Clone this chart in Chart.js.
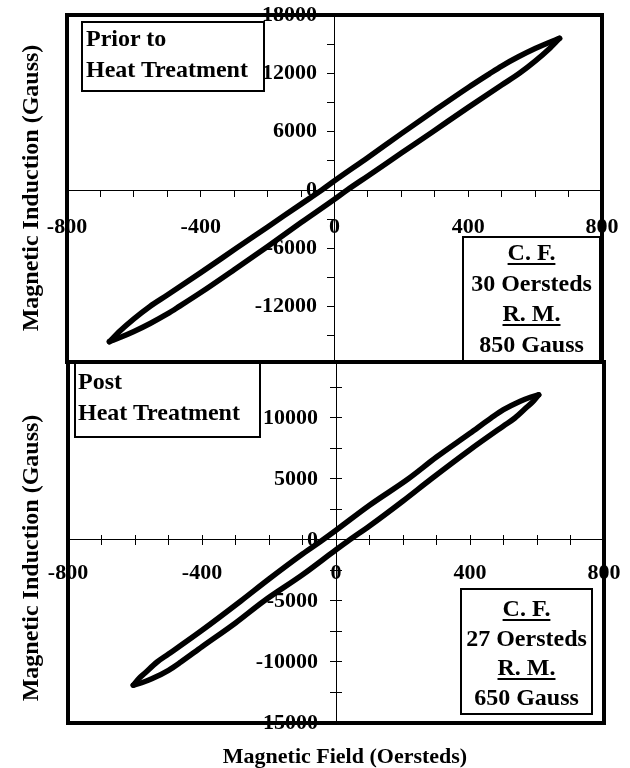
<!DOCTYPE html>
<html><head><meta charset="utf-8">
<script src="https://cdn.jsdelivr.net/npm/chart.js@4.4.1/dist/chart.umd.min.js"></script>
<style>
html,body{margin:0;padding:0;background:#fff;overflow:hidden;}
body{width:630px;height:768px;position:relative;font-family:'Liberation Serif','Times New Roman',serif;font-weight:bold;color:#000;}
canvas{position:absolute;left:-50px;}
#c1{top:-20px;}
#c2{top:320px;}
.box{position:absolute;border:2px solid #000;box-sizing:border-box;font-size:24px;z-index:5;white-space:nowrap;}
.u{text-decoration:underline;text-underline-offset:3px;text-decoration-thickness:2px;}
.ytitle{position:absolute;white-space:nowrap;font-size:24px;line-height:26px;transform:translate(-50%,-50%) rotate(-90deg);z-index:5;}
.xtitle{position:absolute;white-space:nowrap;font-size:22px;line-height:26px;transform:translateX(-50%);z-index:5;}
</style></head>
<body>
<canvas id="c1" width="730" height="420"></canvas>
<canvas id="c2" width="730" height="470"></canvas>

<div class="box" style="left:81px;top:21px;width:184px;height:71px;line-height:31px;padding-left:3px;">Prior to<br>Heat Treatment</div>
<div class="box" style="left:74px;top:361px;width:187px;height:77px;line-height:31px;padding-left:2px;padding-top:3px;">Post<br>Heat Treatment</div>
<div class="box" style="left:462px;top:236px;width:139px;height:127px;line-height:30.5px;text-align:center;"><div style="margin-top:-1px"><span class="u">C. F.</span><br>30 Oersteds<br><span class="u">R. M.</span><br>850 Gauss</div></div>
<div class="box" style="left:460px;top:588px;width:133px;height:127px;line-height:29.5px;text-align:center;padding-top:4px;"><span class="u">C. F.</span><br>27 Oersteds<br><span class="u">R. M.</span><br>650 Gauss</div>

<div class="ytitle" style="left:30px;top:188px;">Magnetic Induction (Gauss)</div>
<div class="ytitle" style="left:30px;top:558px;">Magnetic Induction (Gauss)</div>
<div class="xtitle" style="left:345px;top:743px;">Magnetic Field (Oersteds)</div>

<script>
// ---- Data (Magnetic Field H in Oersteds, Magnetic Induction B in Gauss) ----
// Prior to heat treatment
const priorUpperH = [-673, -640, -600, -553, -500, -400, -294, -200, -100, -38, 0, 100, 200, 300, 400, 463, 500, 550, 600, 640, 673];
const priorUpperB = [-15600, -14450, -13250, -12000, -10800, -8500, -6000, -3800, -1450, 0, 950, 3350, 5800, 8200, 10550, 11950, 12750, 13700, 14550, 15150, 15600];
const priorLowerH = [-673, -640, -600, -550, -500, -463, -400, -300, -200, -100, 0, 38, 100, 200, 294, 400, 500, 553, 600, 640, 673];
const priorLowerB = [-15600, -15150, -14550, -13700, -12750, -11950, -10550, -8200, -5800, -3350, -950, 0, 1450, 3800, 6000, 8500, 10800, 12000, 13250, 14450, 15600];
// Post heat treatment
const postUpperH = [-605, -590, -570, -534, -500, -400, -284, -200, -100, -40, 0, 100, 215, 300, 400, 463, 500, 550, 580, 605];
const postUpperB = [-11900, -11400, -10900, -10000, -9350, -7400, -5000, -3200, -1150, 0, 800, 2850, 5000, 6800, 8750, 10000, 10680, 11380, 11700, 11900];
const postLowerH = [-605, -580, -550, -500, -463, -400, -300, -215, -100, 0, 40, 100, 200, 284, 400, 500, 534, 570, 590, 605];
const postLowerB = [-11900, -11700, -11380, -10680, -10000, -8750, -6800, -5000, -2850, -800, 0, 1150, 3200, 5000, 7400, 9350, 10000, 10900, 11400, 11900];

// Ticks (marks) and tick labels
const fieldTicks = [-800, -700, -600, -500, -400, -300, -200, -100, 0, 100, 200, 300, 400, 500, 600, 700, 800];
const fieldTickLabels = [-800, -400, 0, 400, 800];
const priorTicks = [-15000, -12000, -9000, -6000, -3000, 0, 3000, 6000, 9000, 12000, 15000, 18000];
const priorTickLabels = [-12000, -6000, 0, 6000, 12000, 18000];
const postTicks = [-15000, -12500, -10000, -7500, -5000, -2500, 0, 2500, 5000, 7500, 10000, 12500];
const postTickLabels = [-15000, -10000, -5000, 0, 5000, 10000];

const pts = (hs, bs) => hs.map((h, i) => ({x: h, y: bs[i]}));
const tickFont = {family: "'Liberation Serif', 'Times New Roman', serif", size: 22, weight: 'bold'};
const setTicks = vals => scale => { scale.ticks = vals.map(v => ({value: v})); };

const framePlugin = {
  id: 'frame',
  afterDraw(chart) {
    const {ctx, chartArea: a} = chart;
    ctx.save();
    ctx.strokeStyle = '#000';
    ctx.lineWidth = 4;
    ctx.strokeRect(a.left, a.top, a.right - a.left, a.bottom - a.top);
    ctx.restore();
  }
};

function lineDs(data) {
  return {
    data, showLine: true, pointRadius: 0, borderColor: '#000', borderWidth: 5.5,
    borderCapStyle: 'round', borderJoinStyle: 'round', fill: false,
    cubicInterpolationMode: 'monotone'
  };
}

function makeChart(id, upper, lower, yMin, yMax, yTicks, yLabels, pad, opts) {
  const scales = {
    x: {
      type: 'linear', min: -800, max: 800, position: {y: 0},
      afterBuildTicks: setTicks(fieldTicks),
      ticks: {autoSkip: false, maxRotation: 0, font: tickFont, color: '#000',
        padding: opts.xPad, callback: v => fieldTickLabels.includes(v) ? String(v) : ''},
      grid: {drawOnChartArea: false, drawTicks: true, tickLength: opts.xTick, color: '#000', lineWidth: 1},
      border: {display: true, color: '#000', width: 1}
    },
    y: {
      type: 'linear', min: yMin, max: yMax, position: 'center',
      afterBuildTicks: setTicks(yTicks),
      ticks: {autoSkip: false, font: tickFont, color: '#000',
        padding: opts.yPad, callback: v => yLabels.includes(v) ? String(v) : ''},
      grid: {drawOnChartArea: false, drawTicks: true, tickLength: opts.yTick, color: '#000', lineWidth: 1},
      border: {display: true, color: '#000', width: 1}
    }
  };
  if (opts.cross) {
    scales.x2 = {
      type: 'linear', axis: 'x', min: -800, max: 800, position: {y: 0},
      afterBuildTicks: setTicks(fieldTicks),
      ticks: {autoSkip: false, display: false},
      grid: {drawOnChartArea: false, drawTicks: true, tickLength: -opts.xTick, color: '#000', lineWidth: 1},
      border: {display: false}
    };
    scales.y2 = {
      type: 'linear', axis: 'y', min: yMin, max: yMax, position: 'center',
      afterBuildTicks: setTicks(yTicks),
      ticks: {autoSkip: false, display: false},
      grid: {drawOnChartArea: false, drawTicks: true, tickLength: -opts.yTick, color: '#000', lineWidth: 1},
      border: {display: false}
    };
  }
  return new Chart(document.getElementById(id), {
    type: 'scatter',
    data: {datasets: [lineDs(upper), lineDs(lower)]},
    options: {
      responsive: false, animation: false, devicePixelRatio: 1,
      layout: {padding: pad},
      plugins: {legend: {display: false}, tooltip: {enabled: false}},
      scales
    },
    plugins: [framePlugin]
  });
}

// top canvas: page offset (-50, -20); chart area page x 67..602, y 15..362
makeChart('c1', pts(priorUpperH, priorUpperB), pts(priorLowerH, priorLowerB),
  -17690, 18000, priorTicks, priorTickLabels,
  {left: 117, right: 78, top: 35, bottom: 38},
  {xPad: 18, xTick: 6, yPad: 10.5, yTick: 7, cross: false});

// bottom canvas: page offset (-50, 320); chart area page x 68..604, y 362..723
makeChart('c2', pts(postUpperH, postUpperB), pts(postLowerH, postLowerB),
  -15000, 14590, postTicks, postTickLabels,
  {left: 118, right: 76, top: 42, bottom: 67},
  {xPad: 15, xTick: 5, yPad: 12, yTick: 6, cross: true});
</script>
</body></html>
